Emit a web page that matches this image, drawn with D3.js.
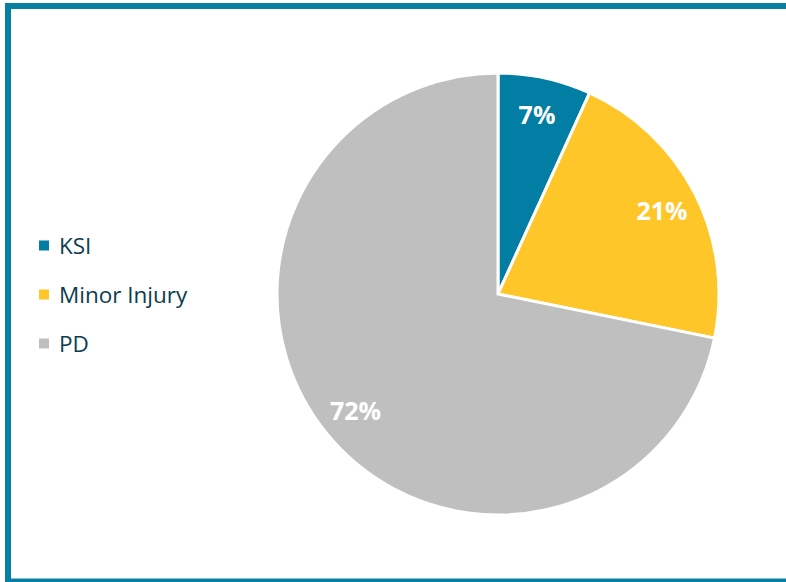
<!DOCTYPE html>
<html><head><meta charset="utf-8">
<script src="https://cdn.jsdelivr.net/npm/d3@7"></script>
<style>html,body{margin:0;padding:0;background:#fff;}svg{display:block;}</style>
</head><body>
<svg id="chart" width="786" height="582"></svg>
<script>
const categories = ["KSI", "Minor Injury", "PD"];
const values = [6.8, 21.4, 71.8];
const colors = ["#027DA3", "#FFC629", "#BFBFBF"];

const svg = d3.select("#chart");
const W = 786, H = 582;

svg.append("rect").attr("x", 8).attr("y", 6).attr("width", 783).attr("height", 575.5)
  .attr("fill", "#fff").attr("stroke", "#077FA3").attr("stroke-width", 6);

const cx = 498, cy = 294, R = 221;
const data = categories.map((c, i) => ({cat: c, value: values[i], color: colors[i]}));
const pie = d3.pie().value(d => d.value).sort(null);
const arcs = pie(data);
const arc = d3.arc().innerRadius(0).outerRadius(R);
const labelArc = d3.arc().innerRadius(184).outerRadius(184);
const total = d3.sum(values);

const g = svg.append("g").attr("transform", `translate(${cx},${cy})`);
g.selectAll("path").data(arcs).join("path")
  .attr("d", arc).attr("fill", d => d.data.color)
  .attr("stroke", "#fff").attr("stroke-width", 3).attr("stroke-linejoin", "miter");

g.selectAll("text").data(arcs).join("text")
  .attr("transform", d => `translate(${labelArc.centroid(d)})`)
  .attr("text-anchor", "middle").attr("dominant-baseline", "central")
  .attr("font-family", "'Open Sans', sans-serif").attr("font-weight", 700)
  .attr("font-size", 25).attr("fill", "#fff")
  .text(d => Math.round(d.data.value / total * 100) + "%");

const legend = svg.append("g");
const rows = legend.selectAll("g").data(data).join("g")
  .attr("transform", (d, i) => `translate(39,${245.5 + i * 49})`);
rows.append("rect").attr("x", 0).attr("y", -5).attr("width", 10).attr("height", 10)
  .attr("fill", d => d.color);
rows.append("text").attr("x", 20).attr("y", 0).attr("dominant-baseline", "central")
  .attr("font-family", "'Open Sans', sans-serif").attr("font-size", 22.5)
  .attr("fill", "#0B3D4F").text(d => d.cat);
</script>
</body></html>
